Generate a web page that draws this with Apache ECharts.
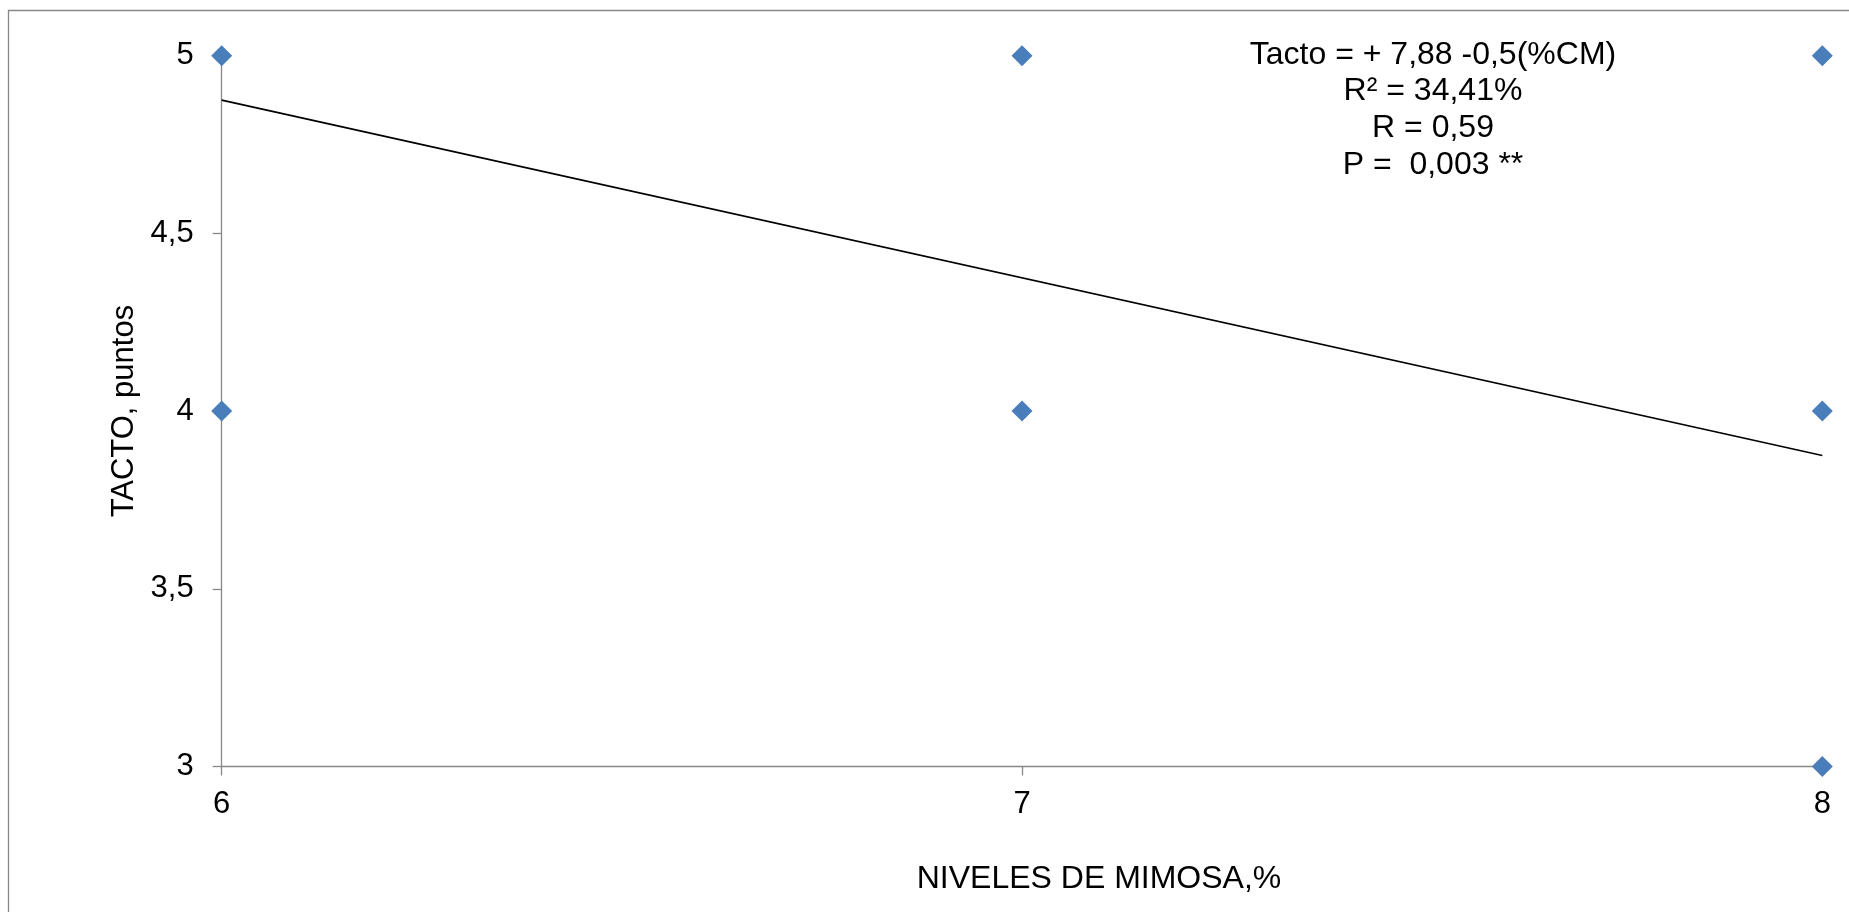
<!DOCTYPE html>
<html>
<head>
<meta charset="utf-8">
<script src="https://cdn.jsdelivr.net/npm/echarts@6/dist/echarts.min.js"></script>
<style>
html,body{margin:0;padding:0;background:#fff;}
#chart{width:1849px;height:912px;}
</style>
</head>
<body>
<div id="chart"></div>
<script>
// Observed points (NIVELES DE MIMOSA %, TACTO puntos)
const nivelesX = [6, 6, 7, 7, 8, 8, 8];
const tactoY   = [5, 4, 5, 4, 5, 4, 3];
// Linear trend line endpoints: Tacto = 7.875 - 0.5 x
const trendX = [6, 8];
const trendY = [4.875, 3.875];
const yTicks = { min: 3, max: 5, interval: 0.5 };
const xTicks = { min: 6, max: 8, interval: 1 };
const annotationLines = ['Tacto = + 7,88 -0,5(%CM)', 'R² = 34,41%', 'R = 0,59', 'P =  0,003 **'];
const xName = 'NIVELES DE MIMOSA,%';
const yName = 'TACTO, puntos';

const FONT = '"Liberation Sans", Arial, sans-serif';
const chart = echarts.init(document.getElementById('chart'), null, {renderer: 'canvas'});

const scatterData = nivelesX.map((x, i) => [x, tactoY[i]]);
const trendData = trendX.map((x, i) => [x, trendY[i]]);

const annoGraphics = annotationLines.map((t, i) => ({
  type: 'text',
  x: 1433,
  y: 55 + i * 36.6,
  z: 10,
  style: {
    text: t,
    fill: '#000',
    font: '32px ' + FONT,
    align: 'center',
    verticalAlign: 'middle'
  }
}));

chart.setOption({
  animation: false,
  backgroundColor: '#fff',
  grid: { left: 221.7, right: 26.7, top: 55.7, bottom: 145.5, containLabel: false },
  xAxis: {
    type: 'value',
    min: xTicks.min, max: xTicks.max, interval: xTicks.interval,
    axisLine: { show: true, onZero: false, lineStyle: { color: '#888', width: 1.3 } },
    axisTick: { show: true, inside: false, length: 9, lineStyle: { color: '#888', width: 1.3 } },
    axisLabel: { color: '#000', fontSize: 31, fontFamily: FONT, margin: 22 },
    splitLine: { show: false }
  },
  yAxis: {
    type: 'value',
    min: yTicks.min, max: yTicks.max, interval: yTicks.interval,
    name: yName,
    nameLocation: 'middle',
    nameGap: 76,
    nameTextStyle: { color: '#000', fontSize: 31, fontFamily: FONT },
    axisLine: { show: true, onZero: false, lineStyle: { color: '#888', width: 1.3 } },
    axisTick: { show: true, inside: false, length: 9, lineStyle: { color: '#888', width: 1.3 } },
    axisLabel: {
      color: '#000', fontSize: 31, fontFamily: FONT, margin: 28,
      padding: [5, 0, 0, 0],
      formatter: v => String(v).replace('.', ',')
    },
    splitLine: { show: false }
  },
  series: [
    {
      type: 'line',
      data: trendData,
      symbol: 'none',
      lineStyle: { color: '#000', width: 1.6 },
      z: 2
    },
    {
      type: 'scatter',
      data: scatterData,
      symbol: 'diamond',
      symbolSize: 21,
      itemStyle: { color: '#4a7ebb', opacity: 1 },
      z: 3
    }
  ],
  graphic: [
    {
      type: 'rect',
      shape: { x: 8.5, y: 10.5, width: 2000, height: 1200 },
      style: { fill: 'none', stroke: '#888', lineWidth: 1.3 },
      silent: true,
      z: -1
    },
    {
      type: 'text',
      x: 1099,
      y: 879,
      style: {
        text: xName,
        fill: '#000',
        font: '32px ' + FONT,
        align: 'center',
        verticalAlign: 'middle'
      }
    }
  ].concat(annoGraphics)
});
</script>
</body>
</html>
